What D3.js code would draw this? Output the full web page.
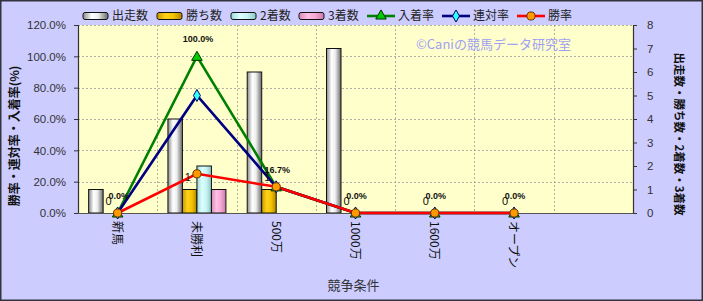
<!DOCTYPE html>
<html><head><meta charset="utf-8">
<script src="https://cdn.jsdelivr.net/npm/d3@7"></script>
<style>
html,body{margin:0;padding:0;background:#fff;}
svg{display:block;}
text{font-family:"Liberation Sans","Noto Sans CJK JP",sans-serif;}
.jp{font-family:"Noto Sans CJK JP","Liberation Sans",sans-serif;}
</style></head>
<body>
<svg id="c" width="703" height="301"></svg>
<script>
// ---- data ----
const categories = ["新馬","未勝利","500万","1000万","1600万","オープン",""];
const runs    = [1,4,6,7,0,0];
const wins    = [0,1,1,0,0,0];
const seconds = [0,2,0,0,0,0];
const thirds  = [0,1,0,0,0,0];
const placeRate   = [0,1.0,0.167,0,0,0];
const rentaiRate  = [0,0.75,0.167,0,0,0];
const winRate     = [0,0.25,0.167,0,0,0];
const placeLabels = ["0.0%","100.0%","16.7%","0.0%","0.0%","0.0%"];
const winCountLabels = ["0","1","1","0","0","0"];
const leftTicks  = [0,0.2,0.4,0.6,0.8,1.0,1.2];
const rightTicks = [0,1,2,3,4,5,6,7,8];
const barSeries  = ["出走数","勝ち数","2着数","3着数"];
const lineSeries = ["入着率","連対率","勝率"];

const svg = d3.select("#c");
const W=703,H=301;
const P={l:78,r:633,t:25,b:213};

// backgrounds
svg.append("rect").attr("x",0).attr("y",0).attr("width",W).attr("height",H).attr("fill","#CCCCFF");
svg.append("rect").attr("x",0.75).attr("y",0.75).attr("width",W-1.5).attr("height",H-1.5)
  .attr("fill","none").attr("stroke","#33333f").attr("stroke-width",1.5);
svg.append("rect").attr("x",P.l).attr("y",P.t).attr("width",P.r-P.l).attr("height",P.b-P.t).attr("fill","#FFFFCC");

// gradients
const defs=svg.append("defs");
function grad(id,stops){
  const g=defs.append("linearGradient").attr("id",id).attr("x1","0").attr("x2","1").attr("y1","0").attr("y2","0");
  stops.forEach(s=>g.append("stop").attr("offset",s[0]).attr("stop-color",s[1]));
}
grad("gRun",[[0,"#8a8a8a"],[0.35,"#ffffff"],[0.6,"#eeeeee"],[1,"#6a6a6a"]]);
grad("gWin",[[0,"#c89a00"],[0.35,"#ffd21a"],[0.65,"#f5c400"],[1,"#b08400"]]);
grad("g2",[[0,"#9fd6d6"],[0.35,"#dcffff"],[0.65,"#c8f4f4"],[1,"#8cc4c4"]]);
grad("g3",[[0,"#d98ab8"],[0.35,"#ffc0e4"],[0.65,"#f5a8d4"],[1,"#c87aa8"]]);
const barFills=["url(#gRun)","url(#gWin)","url(#g2)","url(#g3)"];

// scales
const x=d3.scaleBand().domain(categories).range([P.l,P.r]).padding(0);
const yL=d3.scaleLinear().domain([0,1.2]).range([P.b,P.t]);
const yR=d3.scaleLinear().domain([0,8]).range([P.b,P.t]);
const groupW=58;
const xs=d3.scaleBand().domain(barSeries).range([0,groupW]).padding(0);
const cx=c=>x(c)+x.bandwidth()/2;

// gridlines
const grid=svg.append("g").attr("stroke","#9a9a9a").attr("stroke-width",0.8).attr("stroke-dasharray","2,2");
leftTicks.slice(1).forEach(t=>grid.append("line").attr("x1",P.l).attr("x2",P.r).attr("y1",Math.round(yL(t))+0.5).attr("y2",Math.round(yL(t))+0.5));
categories.slice(1).forEach(c=>grid.append("line").attr("x1",Math.round(x(c))+0.5).attr("x2",Math.round(x(c))+0.5).attr("y1",P.t).attr("y2",P.b));

// bars
const barData=[runs,wins,seconds,thirds];
const bars=svg.append("g");
barData.forEach((arr,si)=>{
  arr.forEach((v,i)=>{
    if(!v) return;
    const c=categories[i];
    const x0=cx(c)-groupW/2+xs(barSeries[si]);
    bars.append("rect").attr("x",x0).attr("y",yR(v)).attr("width",xs.bandwidth()).attr("height",yR(0)-yR(v))
      .attr("fill",barFills[si]).attr("stroke","#111").attr("stroke-width",1);
  });
});

// axes
const axL=svg.append("g").attr("transform",`translate(${P.l},0)`)
  .call(d3.axisLeft(yL).tickValues(leftTicks).tickFormat(d=>(d*100).toFixed(1)+"%").tickSize(4).tickPadding(8));
const axR=svg.append("g").attr("transform",`translate(${P.r},0)`)
  .call(d3.axisRight(yR).tickValues(rightTicks).tickFormat(d3.format("d")).tickSize(4).tickPadding(10));
[axL,axR].forEach(a=>{
  a.selectAll(".domain").attr("stroke","#333").attr("stroke-width",1.2);
  a.selectAll(".tick line").attr("stroke","#333");
  a.selectAll(".tick text").attr("font-size",11.5).attr("fill","#333");
});
svg.append("line").attr("x1",P.l).attr("x2",P.r).attr("y1",P.b+0.5).attr("y2",P.b+0.5).attr("stroke","#555").attr("stroke-width",1.2);

// category labels (rotated)
categories.forEach(c=>{
  if(!c) return;
  svg.append("text").attr("class","jp").attr("transform",`translate(${cx(c)-0.5},221) rotate(90)`)
    .attr("dy","0.35em").attr("font-size",12).attr("fill","#111").text(c);
});

// lines
const lineData=[placeRate,rentaiRate,winRate];
const lineColors=["#008000","#000080","#FF0000"];
const line=d3.line().x((d,i)=>cx(categories[i])).y(d=>yL(d));
const sym=[d3.symbolTriangle,d3.symbolDiamond,d3.symbolCircle];
const symSize=[48,42,52];
const symFill=["#00CC00","#33FFFF","#FF9900"];
const symStroke=["#003300","#000066","#663300"];
lineData.forEach((arr,si)=>{
  svg.append("path").datum(arr).attr("d",line).attr("fill","none").attr("stroke",lineColors[si]).attr("stroke-width",2.6);
});
lineData.forEach((arr,si)=>{
  arr.forEach((v,i)=>{
    svg.append("path").attr("d",d3.symbol().type(sym[si]).size(symSize[si])())
      .attr("transform",`translate(${cx(categories[i])},${yL(v)+(si===0?1:0)})`)
      .attr("fill",symFill[si]).attr("stroke",symStroke[si]).attr("stroke-width",1);
  });
});

// data labels
winCountLabels.forEach((t,i)=>{
  svg.append("text").attr("x",cx(categories[i])-9).attr("y",yR(wins[i])-12).attr("dy","0.35em")
    .attr("text-anchor","middle").attr("font-size",11).attr("fill","#111").text(t);
});
placeLabels.forEach((t,i)=>{
  svg.append("text").attr("x",cx(categories[i])+1).attr("y",yL(placeRate[i])-17).attr("dy","0.35em")
    .attr("text-anchor","middle").attr("font-size",9).attr("font-weight","bold").attr("fill","#111").text(t);
});

// watermark
svg.append("text").attr("class","jp").attr("x",416).attr("y",44).attr("dy","0.35em")
  .attr("font-size",13).attr("fill","#a0a0f4").text("©Caniの競馬データ研究室");

// axis titles
svg.append("text").attr("class","jp").attr("transform","translate(15,136) rotate(-90)")
  .attr("text-anchor","middle").attr("dy","0.35em").attr("font-size",12).attr("font-weight","bold").attr("fill","#111")
  .text("勝率・連対率・入着率(%)");
svg.append("text").attr("class","jp").attr("transform","translate(679,134) rotate(90)")
  .attr("text-anchor","middle").attr("dy","0.35em").attr("font-size",11.5).attr("font-weight","bold").attr("fill","#111")
  .text("出走数・勝ち数・2着数・3着数");
svg.append("text").attr("class","jp").attr("x",(P.l+P.r)/2-2).attr("y",285).attr("dy","0.35em")
  .attr("text-anchor","middle").attr("font-size",13).attr("fill","#333").text("競争条件");

// legend
const lg=svg.append("g");
const ly=16;
const barLegX=[83,157,231,299];
barSeries.forEach((s,i)=>{
  lg.append("rect").attr("x",barLegX[i]).attr("y",ly-3.5).attr("width",25).attr("height",7).attr("rx",2)
    .attr("fill",barFills[i]).attr("stroke","#111").attr("stroke-width",1);
  lg.append("text").attr("class","jp").attr("x",barLegX[i]+29).attr("y",ly).attr("dy","0.35em")
    .attr("font-size",12).attr("fill","#222").text(s);
});
const lineLegX=[367,442,517];
lineSeries.forEach((s,i)=>{
  lg.append("line").attr("x1",lineLegX[i]).attr("x2",lineLegX[i]+28).attr("y1",ly).attr("y2",ly)
    .attr("stroke",lineColors[i]).attr("stroke-width",2.6);
  lg.append("path").attr("d",d3.symbol().type(sym[i]).size(symSize[i])())
    .attr("transform",`translate(${lineLegX[i]+14},${ly})`)
    .attr("fill",symFill[i]).attr("stroke",symStroke[i]).attr("stroke-width",1);
  lg.append("text").attr("class","jp").attr("x",lineLegX[i]+31).attr("y",ly).attr("dy","0.35em")
    .attr("font-size",12).attr("fill","#222").text(s);
});
</script>
</body></html>
